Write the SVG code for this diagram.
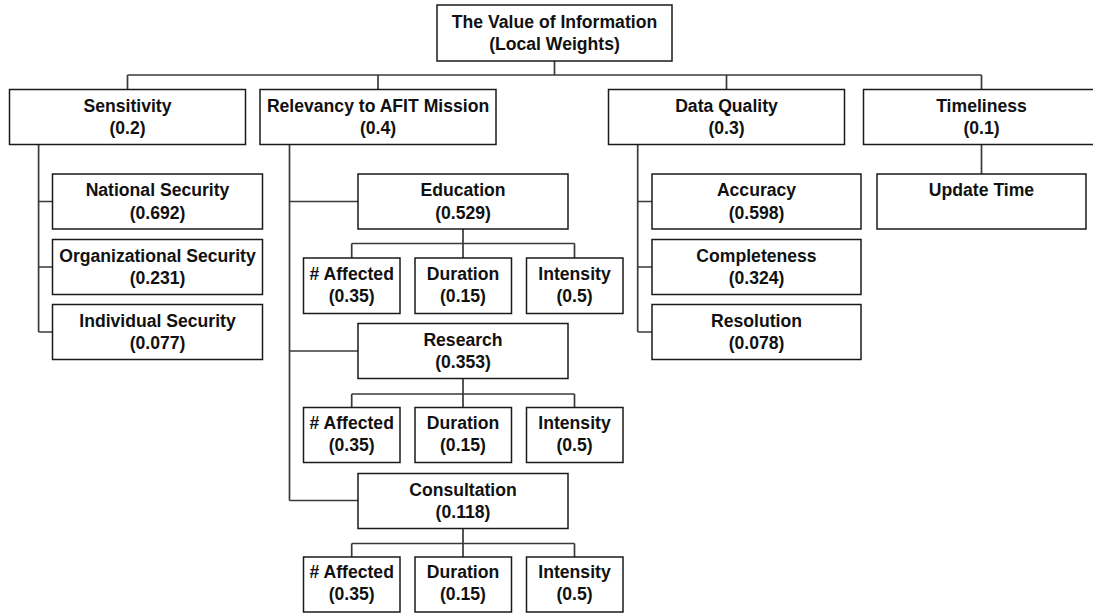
<svg xmlns="http://www.w3.org/2000/svg" width="1093" height="613" viewBox="0 0 1093 613">
<style>
.b{fill:#fff;stroke:#1a1a1a;stroke-width:1.5}
.t{font-family:"Liberation Sans",Arial,sans-serif;font-weight:bold;font-size:17.6px;fill:#111;text-anchor:middle}
.c{fill:none;stroke:#3a3a3a;stroke-width:1.7}
</style>
<rect width="1093" height="613" fill="#fff"/>
<g id="connectors">
<path class="c" d="M554.5 61V75M127.5 75H981.5M127.5 75V89.5M378 75V89.5M726.5 75V89.5M981.5 75V89.5"/>
<path class="c" d="M38.6 144.5V332M38.6 201.5H52.5M38.6 267H52.5M38.6 332H52.5"/>
<path class="c" d="M289.5 144.5V500.5M289.5 201.5H358M289.5 351H358M289.5 500.5H358"/>
<path class="c" d="M463 229V243.5M351.7 243.5H574.5M351.7 243.5V258M574.5 243.5V258M463 243.5V258"/>
<path class="c" d="M463 378.5V394M351.7 394H574.5M351.7 394V407.5M574.5 394V407.5M463 394V407.5"/>
<path class="c" d="M463 528.5V543.5M351.7 543.5H574.5M351.7 543.5V557.5M574.5 543.5V557.5M463 543.5V557.5"/>
<path class="c" d="M637.7 144.5V332M637.7 201.5H652M637.7 267H652M637.7 332H652"/>
<path class="c" d="M981.5 144.5V174"/>
</g>
<g id="root"><rect class="b" x="437" y="5" width="235" height="56"/><text class="t" x="554.5" y="27.5">The Value of Information</text><text class="t" x="554.5" y="49.5">(Local Weights)</text></g>
<g id="sensitivity"><rect class="b" x="9.5" y="89.5" width="236" height="55"/><text class="t" x="127.5" y="111.8">Sensitivity</text><text class="t" x="127.5" y="134">(0.2)</text></g>
<g id="relevancy"><rect class="b" x="260" y="89.5" width="236" height="55"/><text class="t" x="378" y="111.8">Relevancy to AFIT Mission</text><text class="t" x="378" y="134">(0.4)</text></g>
<g id="dataquality"><rect class="b" x="608.5" y="89.5" width="236" height="55"/><text class="t" x="726.5" y="111.8">Data Quality</text><text class="t" x="726.5" y="134">(0.3)</text></g>
<g id="timeliness"><rect class="b" x="863.5" y="89.5" width="236" height="55"/><text class="t" x="981.5" y="111.8">Timeliness</text><text class="t" x="981.5" y="134">(0.1)</text></g>
<g id="national"><rect class="b" x="52.5" y="174" width="210" height="55"/><text class="t" x="157.5" y="196.3">National Security</text><text class="t" x="157.5" y="218.5">(0.692)</text></g>
<g id="organizational"><rect class="b" x="52.5" y="239.5" width="210" height="55"/><text class="t" x="157.5" y="261.8">Organizational Security</text><text class="t" x="157.5" y="284">(0.231)</text></g>
<g id="individual"><rect class="b" x="52.5" y="304.5" width="210" height="55"/><text class="t" x="157.5" y="326.8">Individual Security</text><text class="t" x="157.5" y="349">(0.077)</text></g>
<g id="education"><rect class="b" x="358" y="174" width="210" height="55"/><text class="t" x="463" y="196.3">Education</text><text class="t" x="463" y="218.5">(0.529)</text></g>
<g id="edu-affected"><rect class="b" x="303.5" y="258" width="96.5" height="55.5"/><text class="t" x="351.7" y="279.8"># Affected</text><text class="t" x="351.7" y="301.8">(0.35)</text></g>
<g id="edu-duration"><rect class="b" x="415" y="258" width="96.5" height="55.5"/><text class="t" x="463" y="279.8">Duration</text><text class="t" x="463" y="301.8">(0.15)</text></g>
<g id="edu-intensity"><rect class="b" x="526.5" y="258" width="96.5" height="55.5"/><text class="t" x="574.5" y="279.8">Intensity</text><text class="t" x="574.5" y="301.8">(0.5)</text></g>
<g id="research"><rect class="b" x="358" y="323.5" width="210" height="55"/><text class="t" x="463" y="345.8">Research</text><text class="t" x="463" y="368">(0.353)</text></g>
<g id="res-affected"><rect class="b" x="303.5" y="407.5" width="96.5" height="55"/><text class="t" x="351.7" y="429.3"># Affected</text><text class="t" x="351.7" y="451.3">(0.35)</text></g>
<g id="res-duration"><rect class="b" x="415" y="407.5" width="96.5" height="55"/><text class="t" x="463" y="429.3">Duration</text><text class="t" x="463" y="451.3">(0.15)</text></g>
<g id="res-intensity"><rect class="b" x="526.5" y="407.5" width="96.5" height="55"/><text class="t" x="574.5" y="429.3">Intensity</text><text class="t" x="574.5" y="451.3">(0.5)</text></g>
<g id="consultation"><rect class="b" x="358" y="473.5" width="210" height="55"/><text class="t" x="463" y="495.8">Consultation</text><text class="t" x="463" y="518">(0.118)</text></g>
<g id="con-affected"><rect class="b" x="303.5" y="557" width="96.5" height="55"/><text class="t" x="351.7" y="578"># Affected</text><text class="t" x="351.7" y="600.3">(0.35)</text></g>
<g id="con-duration"><rect class="b" x="415" y="557" width="96.5" height="55"/><text class="t" x="463" y="578">Duration</text><text class="t" x="463" y="600.3">(0.15)</text></g>
<g id="con-intensity"><rect class="b" x="526.5" y="557" width="96.5" height="55"/><text class="t" x="574.5" y="578">Intensity</text><text class="t" x="574.5" y="600.3">(0.5)</text></g>
<g id="accuracy"><rect class="b" x="652" y="174" width="209" height="55"/><text class="t" x="756.5" y="196.3">Accuracy</text><text class="t" x="756.5" y="218.5">(0.598)</text></g>
<g id="completeness"><rect class="b" x="652" y="239.5" width="209" height="55"/><text class="t" x="756.5" y="261.8">Completeness</text><text class="t" x="756.5" y="284">(0.324)</text></g>
<g id="resolution"><rect class="b" x="652" y="304.5" width="209" height="55"/><text class="t" x="756.5" y="326.8">Resolution</text><text class="t" x="756.5" y="349">(0.078)</text></g>
<g id="updatetime"><rect class="b" x="877" y="174" width="209" height="55"/><text class="t" x="981.5" y="196.3">Update Time</text></g>
</svg>
